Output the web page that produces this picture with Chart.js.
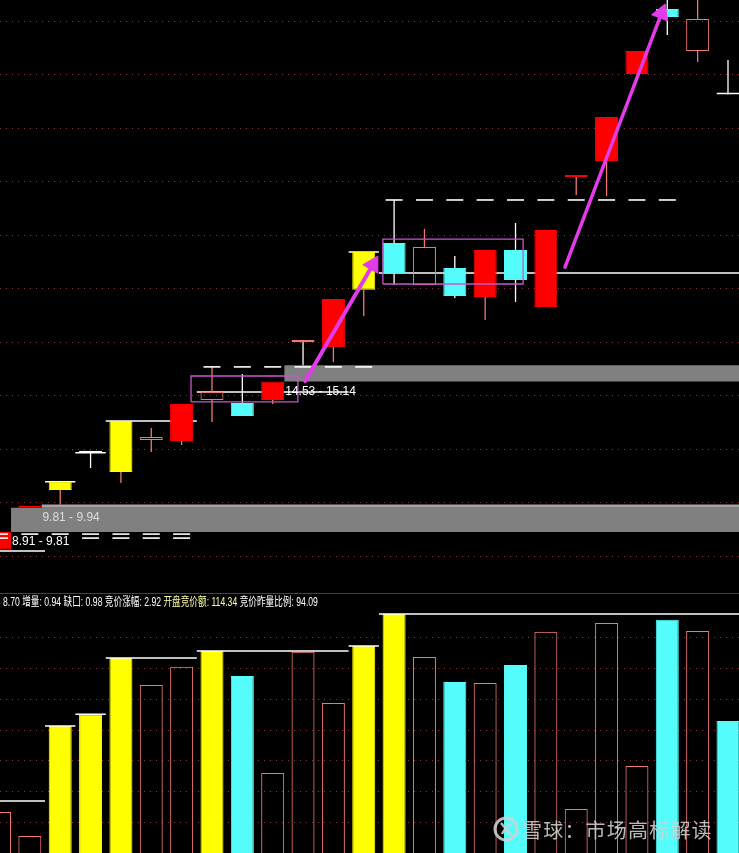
<!DOCTYPE html>
<html><head><meta charset="utf-8">
<script src="https://cdn.jsdelivr.net/npm/chart.js@4/dist/chart.umd.min.js"></script>
<style>
html,body{margin:0;padding:0;background:#000;width:739px;height:853px;overflow:hidden;position:relative;}
canvas{position:absolute;left:0;}
#pc{top:0;}
#vc{top:595px;}
.sep{position:absolute;left:0;top:593px;width:739px;height:1px;background:#8a2424;}
.title{position:absolute;left:3px;top:596px;font-size:12px;line-height:12px;font-family:"Liberation Sans","Noto Sans CJK SC",sans-serif;color:#fff;white-space:nowrap;transform:scaleX(0.72);transform-origin:0 0;}
.lbl{position:absolute;font-size:12px;line-height:12px;font-family:"Liberation Sans",sans-serif;white-space:nowrap;}
.wm{position:absolute;left:493px;top:815px;height:28px;display:flex;align-items:center;color:rgba(210,210,210,0.88);font-family:"Noto Sans CJK SC",sans-serif;font-size:20px;letter-spacing:1.2px;white-space:nowrap;}
</style></head><body>
<canvas id="pc" width="739" height="592"></canvas>
<div class="sep"></div>
<canvas id="vc" width="739" height="258"></canvas>
<div id="title" class="title"></div>
<div class="wm"><svg width="26" height="26" viewBox="0 0 26 26" style="margin-right:3px"><circle cx="13" cy="13" r="11" fill="none" stroke="rgba(210,210,210,0.88)" stroke-width="3"/><path d="M8 7 Q13 13 18 19 M18 8 Q12 12 9 18" fill="none" stroke="rgba(210,210,210,0.88)" stroke-width="2.5"/></svg><span>雪球：市场高标解读</span></div>
<script>
// ---------- data ----------
const days  = Array.from({length: 25}, (_, i) => i);
const open  = [8.24, 9.81, 10.48, 11.87, 11.15, 12.35, 12.31, 13.84, 13.73, 13.84, 16.01, 15.82, 17.96, 19.71, 18.14, 18.78, 17.69, 19.45, 17.32, 22.18, 22.78, 26.03, 28.46, 26.89, 25.28];
const high  = [8.91, 9.81, 10.79, 11.87, 13.06, 12.80, 13.69, 15.08, 14.81, 14.53, 16.01, 17.62, 19.38, 21.32, 20.24, 19.23, 19.45, 20.46, 20.20, 22.18, 24.42, 26.89, 29.20, 29.10, 26.55];
const low   = [8.24, 9.81, 9.94, 11.30, 10.74, 11.90, 12.16, 13.02, 13.24, 13.69, 15.14, 15.26, 16.98, 18.14, 18.14, 17.66, 16.83, 17.51, 17.32, 21.51, 21.47, 26.03, 27.49, 26.48, 25.28];
const close = [8.91, 9.81, 10.79, 11.87, 13.06, 12.46, 13.69, 14.14, 13.24, 14.53, 16.01, 17.62, 19.38, 18.59, 19.56, 17.73, 19.45, 18.33, 20.20, 22.18, 24.42, 26.89, 28.16, 28.09, 25.26];
const kind  = ['red','red','limit','white','limit','hollow','red','hollow','down','red','T','red','limit','down','hollow','down','red','down','red','red','red','red','down','hollow','white'];
const volume = [23.3, 15.5, 51.3, 55.2, 73.5, 64.7, 70.6, 75.8, 67.6, 36.0, 75.5, 58.8, 77.4, 87.8, 73.8, 65.7, 65.3, 71.2, 82.0, 24.3, 84.9, 38.3, 85.9, 82.3, 53.0];
const prevKeyClose = 8.20;
const prevKeyVolume = 26.9;
const gapFrom = [0, 1, 9];
const gapLow  = [8.91, 9.81, 14.53];
const gapHigh = [9.81, 9.94, 15.14];
const dashFrom  = [0, 0, 7, 13];
const dashTo    = [6, 6, 12, 22];
const dashPrice = [8.83, 8.68, 15.08, 21.32];
const boxX = [[6.31, 9.83], [12.63, 17.25]];
const boxY = [[13.77, 14.74], [18.18, 19.86]];
const arrowFrom = [[10.07, 14.55], [18.63, 18.81]];
const arrowTo   = [[12.30, 18.90], [21.81, 28.30]];
const priceTicks = [8, 10, 12, 14, 16, 18, 20, 22, 24, 26, 28];
const volumeTicks = [20, 30, 40, 50, 60, 70, 80];
const titleLead = '8.70';
const titleNames  = ['增量', '缺口', '竞价涨幅', '开盘竞价额', '竞价昨量比例'];
const titleValues = ['0.94', '0.98', '2.92', '114.34', '94.09'];

// ---------- styles ----------
const YELLOW = '#ffff00', CYAN = '#54fcfc', RED = '#ff0000', SALMON = '#ee7872', WHITE = '#ffffff', MAGENTA = '#e23be8', BOX = '#c657cc';
const GRID = '#86393a';
const X_MIN = 0.0165, X_MAX = 24.3627;
const P_MIN = 6.665, P_MAX = 28.796;
const V_MIN = 9.97, V_MAX = 94.0;
const GAP_OFFSET = 0.38;

const bodyFill = {red: RED, limit: YELLOW, white: WHITE, hollow: 'rgba(0,0,0,0)', down: CYAN, T: SALMON};
const bodyLine = {red: RED, limit: YELLOW, white: WHITE, hollow: SALMON, down: CYAN, T: SALMON};
const wickCol  = {red: SALMON, limit: SALMON, white: WHITE, hollow: SALMON, down: WHITE, T: WHITE};

// key days: new running maximum volume
const keyDays = [];
let runMax = prevKeyVolume;
volume.forEach((v, i) => { if (v > runMax) { runMax = v; keyDays.push(i); } });

function keySegments(prevVal, valOf) {
  const starts = [X_MIN - 1, ...keyDays.map(k => k - 0.5)];
  const vals = [prevVal, ...keyDays.map(valOf)];
  const pts = [];
  for (let j = 0; j < starts.length; j++) {
    const e = j + 1 < starts.length ? starts[j + 1] : X_MAX + 1;
    pts.push({x: starts[j], y: vals[j]}, {x: e, y: vals[j]}, {x: e, y: null});
  }
  return pts;
}

const common = {
  responsive: false, maintainAspectRatio: false, animation: false, events: [],
  devicePixelRatio: 1,
  layout: {padding: 0, autoPadding: false},
  plugins: {legend: {display: false}, tooltip: {enabled: false}, title: {display: false}}
};
const xAxis = {type: 'linear', min: X_MIN, max: X_MAX, display: false, offset: false, grid: {offset: false}};

// ---------- price chart ----------
const priceDatasets = [];
gapFrom.forEach((g, i) => {
  priceDatasets.push({
    type: 'line', order: 20,
    data: [{x: g + GAP_OFFSET, y: gapHigh[i]}, {x: X_MAX + 1, y: gapHigh[i]}],
    borderWidth: 0, pointRadius: 0,
    fill: {target: {value: gapLow[i]}},
    backgroundColor: i === 1 ? '#a4a4a4' : '#808080'
  });
});
priceDatasets.push({
  type: 'line', order: 15, data: keySegments(prevKeyClose, k => close[k]),
  borderColor: WHITE, borderWidth: 1.5, pointRadius: 0, spanGaps: false, fill: false
});
const barBase = {type: 'bar', grouped: false, inflateAmount: 0, borderSkipped: false};
priceDatasets.push(Object.assign({}, barBase, {
  order: 12, barThickness: 1.3, borderWidth: 0,
  data: days.map(i => ({x: i, y: [Math.max(open[i], close[i]), high[i]]})),
  backgroundColor: days.map(i => wickCol[kind[i]])
}));
priceDatasets.push(Object.assign({}, barBase, {
  order: 12, barThickness: 1.3, borderWidth: 0,
  data: days.map(i => ({x: i, y: [low[i], Math.min(open[i], close[i])]})),
  backgroundColor: days.map(i => wickCol[kind[i]])
}));
priceDatasets.push(Object.assign({}, barBase, {
  order: 10, barThickness: 23, borderWidth: 1, minBarLength: 2,
  data: days.map(i => ({x: i, y: [open[i], close[i]]})),
  backgroundColor: days.map(i => bodyFill[kind[i]]),
  borderColor: days.map(i => bodyLine[kind[i]])
}));
const dashPts = [];
dashPrice.forEach((p, j) => { for (let i = dashFrom[j]; i <= dashTo[j]; i++) dashPts.push({x: i, y: p}); });
priceDatasets.push({
  type: 'line', order: 8, data: dashPts, showLine: false,
  pointStyle: 'line', pointRadius: 8.5, pointBorderWidth: 1.6,
  pointBorderColor: WHITE, pointBackgroundColor: WHITE
});
const boxPts = [];
boxX.forEach((bx, j) => {
  const by = boxY[j];
  boxPts.push({x: bx[0], y: by[0]}, {x: bx[1], y: by[0]}, {x: bx[1], y: by[1]}, {x: bx[0], y: by[1]}, {x: bx[0], y: by[0]}, {x: bx[0], y: null});
});
priceDatasets.push({
  type: 'line', order: 6, data: boxPts, borderColor: BOX, borderWidth: 1.3, pointRadius: 0, spanGaps: false, fill: false
});
const arrowRot = [30, 21];
arrowFrom.forEach((a, j) => {
  priceDatasets.push({
    type: 'line', order: 4,
    data: [{x: a[0], y: a[1]}, {x: arrowTo[j][0], y: arrowTo[j][1]}],
    borderColor: MAGENTA, borderWidth: j === 0 ? 4 : 3.5, borderCapStyle: 'round',
    pointRadius: [0, 10], pointStyle: 'triangle', pointRotation: arrowRot[j],
    pointBackgroundColor: MAGENTA, pointBorderColor: MAGENTA, pointBorderWidth: 1, fill: false
  });
});

const priceChart = new Chart(document.getElementById('pc'), {
  type: 'bar',
  data: {datasets: priceDatasets},
  options: Object.assign({}, common, {
    scales: {
      x: xAxis,
      y: {
        type: 'linear', min: P_MIN, max: P_MAX, display: true,
        ticks: {display: false},
        grid: {color: GRID, lineWidth: 1, drawTicks: false},
        border: {display: false, dash: [1, 5]},
        afterBuildTicks: s => { s.ticks = priceTicks.map(v => ({value: v})); }
      }
    }
  })
});

// ---------- volume chart ----------
const isKey = days.map(i => keyDays.includes(i));
const volFill = days.map(i => isKey[i] ? YELLOW : (close[i] < open[i] ? CYAN : 'rgba(0,0,0,0)'));
const volLine = days.map(i => isKey[i] ? YELLOW : (close[i] < open[i] ? CYAN : SALMON));
const volChart = new Chart(document.getElementById('vc'), {
  type: 'bar',
  data: {datasets: [
    {type: 'line', order: 2, data: keySegments(prevKeyVolume, k => volume[k]),
      borderColor: WHITE, borderWidth: 1.5, pointRadius: 0, spanGaps: false, fill: false},
    Object.assign({}, barBase, {order: 5, barThickness: 23, borderWidth: 1,
      data: days.map(i => ({x: i, y: volume[i]})),
      backgroundColor: volFill, borderColor: volLine})
  ]},
  options: Object.assign({}, common, {
    scales: {
      x: xAxis,
      y: {
        type: 'linear', min: V_MIN, max: V_MAX, display: true,
        ticks: {display: false},
        grid: {color: GRID, lineWidth: 1, drawTicks: false},
        border: {display: false, dash: [1, 5]},
        afterBuildTicks: s => { s.ticks = volumeTicks.map(v => ({value: v})); }
      }
    }
  })
});

// ---------- text ----------
const t = document.getElementById('title');
let html = '<span>' + titleLead + ' </span>';
titleNames.forEach((n, i) => {
  const col = i === 3 ? '#ffffa0' : '#ffffff';
  html += '<span style="color:' + col + '">' + n + ': ' + titleValues[i] + '</span>' + (i < titleNames.length - 1 ? '<span> </span>' : '');
});
t.innerHTML = html;

const xs = priceChart.scales.x, ys = priceChart.scales.y;
const lblColor = ['#ffffff', '#dcdcdc', '#ffffff'];
gapFrom.forEach((g, i) => {
  const d = document.createElement('div');
  d.className = 'lbl';
  d.textContent = gapLow[i].toFixed(2) + ' - ' + gapHigh[i].toFixed(2);
  d.style.left = (xs.getPixelForValue(g + GAP_OFFSET) + 1) + 'px';
  d.style.top = (ys.getPixelForValue(gapLow[i]) + 3) + 'px';
  d.style.color = lblColor[i];
  if (i === 0) d.style.background = '#000';
  document.body.appendChild(d);
});
</script>
</body></html>
